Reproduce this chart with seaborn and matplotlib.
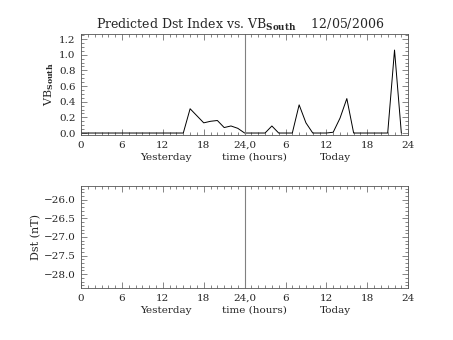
import matplotlib
matplotlib.use("Agg")
import matplotlib.pyplot as plt
from matplotlib.ticker import MultipleLocator, FixedLocator
import numpy as np
import pandas as pd
import seaborn as sns

# Hourly VB_south over yesterday (0-24) and today (24-48)
hours = list(range(0, 48))
vb_south = [0.0] * 16 + [0.31, 0.22, 0.13, 0.15, 0.16, 0.07, 0.09, 0.06,
                         0.0, 0.0, 0.0, 0.0, 0.09, 0.0, 0.0, 0.0,
                         0.36, 0.13, 0.0, 0.0, 0.0, 0.01, 0.19, 0.44,
                         0.0, 0.0, 0.0, 0.0, 0.0, 0.0, 1.06, 0.0]

x_ticks = [0, 6, 12, 18, 24, 30, 36, 42, 48]
x_tick_labels = ["0", "6", "12", "18", "24,0", "6", "12", "18", "24"]
vb_ticks = [0.0, 0.2, 0.4, 0.6, 0.8, 1.0, 1.2]
dst_ticks = [-26.0, -26.5, -27.0, -27.5, -28.0]

sns.set_style("ticks")
plt.rcParams["font.family"] = ["DejaVu Serif"]
plt.rcParams["mathtext.fontset"] = "dejavuserif"
plt.rcParams["axes.unicode_minus"] = True

fig = plt.figure(figsize=(4.53, 3.40), dpi=100)
ax1 = fig.add_axes([0.179, 0.603, 0.722, 0.297])
ax2 = fig.add_axes([0.179, 0.153, 0.722, 0.300])

df = pd.DataFrame({"hour": hours, "vb": vb_south})
sns.lineplot(data=df, x="hour", y="vb", ax=ax1, color="black", linewidth=0.7)
ax1.set_ylim(-0.025, 1.265)
ax1.yaxis.set_major_locator(FixedLocator(vb_ticks))
ax1.yaxis.set_minor_locator(MultipleLocator(0.05))
ax1.set_yticklabels([f"{v:.1f}" for v in vb_ticks])
ax1.set_ylabel(r"VB$_{\mathbf{South}}$", fontsize=8, labelpad=2)

ax2.set_ylim(-28.37, -25.63)
ax2.yaxis.set_major_locator(FixedLocator(dst_ticks))
ax2.yaxis.set_minor_locator(MultipleLocator(0.1))
ax2.set_yticklabels([f"{v:.1f}".replace("-", "\u2212") for v in dst_ticks])
ax2.set_ylabel("Dst (nT)", fontsize=8, labelpad=2)

for ax in (ax1, ax2):
    ax.set_xlim(0, 48)
    ax.xaxis.set_major_locator(FixedLocator(x_ticks))
    ax.xaxis.set_minor_locator(MultipleLocator(1))
    ax.set_xticklabels(x_tick_labels)
    ax.set_xlabel("")
    ax.axvline(24, color="#808080", linewidth=0.8)
    ax.tick_params(which="both", direction="in", top=True, right=True,
                   labelsize=7.5, color="#555555", width=0.5, pad=4)
    ax.tick_params(which="major", length=4)
    ax.tick_params(which="minor", length=2)
    for s in ax.spines.values():
        s.set_linewidth(0.6)
        s.set_color("#555555")
    for xpos, label in ((12.5, "Yesterday"), (25.5, "time (hours)"), (37.3, "Today")):
        ax.text(xpos, -0.175, label, transform=ax.get_xaxis_transform(),
                ha="center", va="top", fontsize=7.5)

fig.text(0.53, 0.915, r"Predicted Dst Index vs. VB$_{\mathbf{South}}$    12/05/2006",
         ha="center", va="baseline", fontsize=9)

fig.savefig("out.png", dpi=100, facecolor="white")
